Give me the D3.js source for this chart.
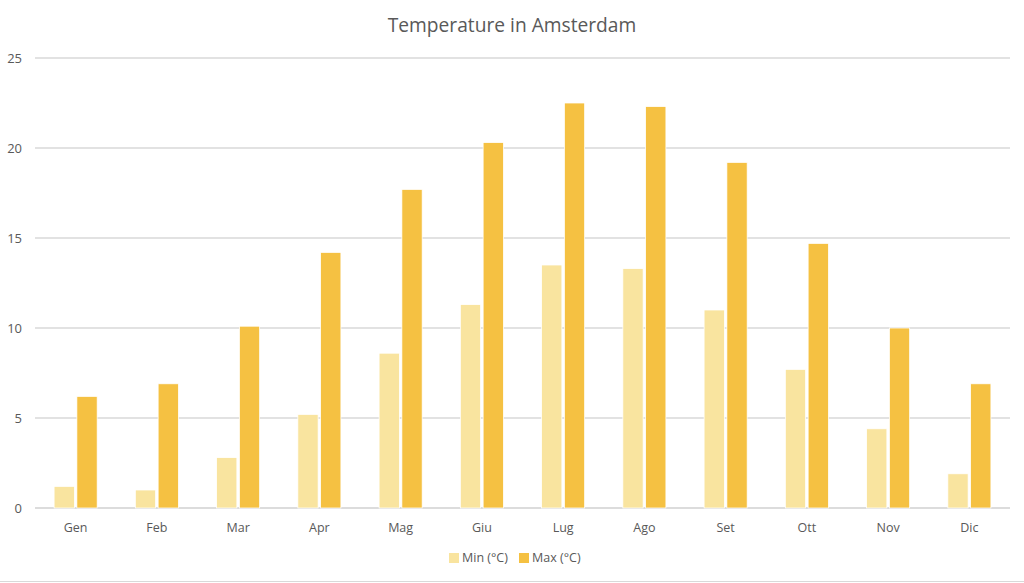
<!DOCTYPE html>
<html><head><meta charset="utf-8">
<script src="https://cdn.jsdelivr.net/npm/d3@7"></script>
<style>body{margin:0;background:#fff}svg{display:block}</style>
</head><body>
<svg id="c" width="1024" height="583"></svg>
<script>
const months = ["Gen","Feb","Mar","Apr","Mag","Giu","Lug","Ago","Set","Ott","Nov","Dic"];
const minVals = [1.2,1.0,2.8,5.2,8.6,11.3,13.5,13.3,11.0,7.7,4.4,1.9];
const maxVals = [6.2,6.9,10.1,14.2,17.7,20.3,22.5,22.3,19.2,14.7,10.0,6.9];
const seriesNames = ["Min (°C)","Max (°C)"];
const yTicks = [0,5,10,15,20,25];
const colors = ["#F9E49F","#F5C142"];

const svg = d3.select("#c");
const W=1024,H=583;
const m={l:35,r:14,t:58,b:75};
const font="'Open Sans', 'Noto Sans', sans-serif";
const txt="#595959";

const x = d3.scaleBand().domain(months).range([m.l, W-m.r]).padding(0);
const y = d3.scaleLinear().domain([0,25]).range([H-m.b, m.t]);
const x1 = d3.scaleBand().domain([0,1]).range([0, x.bandwidth()*0.53]).paddingInner(0.11);

// gridlines
svg.append("g").selectAll("line").data(yTicks).join("line")
  .attr("x1",m.l).attr("x2",W-m.r)
  .attr("y1",d=>y(d)).attr("y2",d=>y(d))
  .attr("stroke",d=>d===0?"#d0d0d0":"#d9d9d9").attr("stroke-width",1.3);

// y labels
svg.append("g").selectAll("text").data(yTicks).join("text")
  .attr("x",22).attr("y",d=>y(d)).attr("dy","0.35em")
  .attr("text-anchor","end").attr("font-family",font).attr("font-size",13)
  .attr("fill",txt).text(d=>d);

// bars
const data = months.map((mth,i)=>({m:mth,v:[minVals[i],maxVals[i]]}));
const groupOff = (x.bandwidth() - x1.range()[1])/2;
const g = svg.append("g").selectAll("g").data(data).join("g")
  .attr("transform",d=>`translate(${x(d.m)+groupOff},0)`);
g.selectAll("rect").data(d=>d.v.map((v,k)=>({v,k}))).join("rect")
  .attr("x",d=>x1(d.k)).attr("width",x1.bandwidth())
  .attr("y",d=>y(d.v)).attr("height",d=>y(0)-y(d.v))
  .attr("fill",d=>colors[d.k]).attr("stroke","#fff").attr("stroke-width",0.75);

// x labels
svg.append("g").selectAll("text").data(months).join("text")
  .attr("x",d=>x(d)+x.bandwidth()/2).attr("y",y(0)+24)
  .attr("text-anchor","middle").attr("font-family",font).attr("font-size",12.5)
  .attr("fill",txt).text(d=>d);

// title
svg.append("text").attr("x",W/2).attr("y",32).attr("text-anchor","middle")
  .attr("font-family",font).attr("font-size",19.2).attr("fill",txt)
  .text("Temperature in Amsterdam");

// legend
const leg = svg.append("g");
const legX=[449,519];
seriesNames.forEach((s,i)=>{
  leg.append("rect").attr("x",legX[i]).attr("y",553).attr("width",10).attr("height",10).attr("fill",colors[i]);
  leg.append("text").attr("x",legX[i]+13).attr("y",558).attr("dy","0.35em")
    .attr("font-family",font).attr("font-size",12.5).attr("fill",txt).text(s);
});

// bottom border
svg.append("line").attr("x1",0).attr("x2",W).attr("y1",581.5).attr("y2",581.5).attr("stroke","#d9d9d9").attr("stroke-width",1);
</script>
</body></html>
